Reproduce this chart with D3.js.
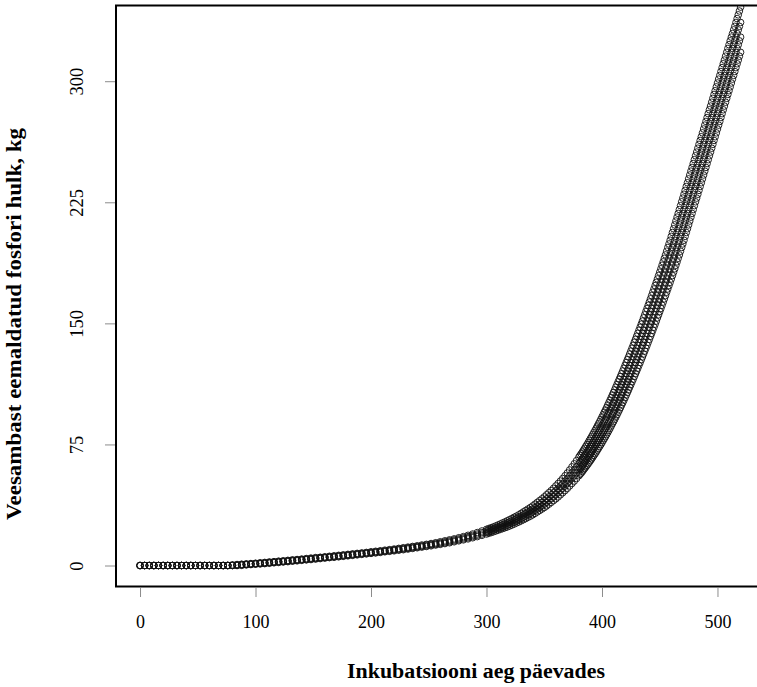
<!DOCTYPE html>
<html>
<head>
<meta charset="utf-8">
<script src="https://cdn.jsdelivr.net/npm/d3@7"></script>
<style>
  body { margin: 0; background: #fff; }
  svg { display: block; font-family: "Liberation Serif", "Times New Roman", serif; }
</style>
</head>
<body>
<div id="chart"></div>
<script>
// incubation day of every sample (sparser where the curve is flat)
var days = [0,4,8,12,16,20,24,28,32,36,40,44,48,52,56,60,64,68,72,76,
    80,84,88,92,96,100,104,108,112,116,120,124,128,132,136,140,144,148,152,156,
    160,164,168,172,176,180,184,188,192,196,200,204,208,212,216,220,224,228,232,236,
    240,244,248,252,256,260,264,268,272,276,280,284,288,292,296,
    300,302,304,306,308,310,312,314,316,318,320,322,324,326,328,330,332,334,336,338,
    340,342,344,346,348,350,352,354,356,358,360,362,364,366,368,370,372,374,376,378,
    380,381,382,383,384,385,386,387,388,389,390,391,392,393,394,395,396,397,398,399,
    400,401,402,403,404,405,406,407,408,409,410,411,412,413,414,415,416,417,418,419,
    420,421,422,423,424,425,426,427,428,429,430,431,432,433,434,435,436,437,438,439,
    440,441,442,443,444,445,446,447,448,449,450,451,452,453,454,455,456,457,458,459,
    460,461,462,463,464,465,466,467,468,469,470,471,472,473,474,475,476,477,478,479,
    480,481,482,483,484,485,486,487,488,489,490,491,492,493,494,495,496,497,498,499,
    500,501,502,503,504,505,506,507,508,509,510,511,512,513,514,515,516,517,518,519,520];

// removed phosphorus, kg - four runs
var seriesA = [0,0,0,0,0,0,0,0,0,0,0,0,0,0,0,0,0,0,0,
    0.1,0.4,0.6,0.8,1.0,1.2,1.4,1.7,1.9,2.2,2.4,2.7,2.9,3.2,3.5,3.7,4.0,4.3,4.6,4.9,
    5.1,5.4,5.7,6.0,6.3,6.6,6.9,7.2,7.5,7.8,8.1,8.5,8.8,9.1,9.5,9.8,10.2,10.6,11.0,11.4,
    11.8,12.2,12.7,13.1,13.6,14.1,14.7,15.3,15.9,16.5,17.2,17.9,18.7,19.5,20.4,21.4,
    22.4,22.9,23.4,23.9,24.5,25.1,25.7,26.4,27.0,27.7,28.4,29.1,29.9,30.6,31.4,32.3,33.2,34.1,35.0,35.9,
    36.9,38.0,39.1,40.2,41.3,42.5,43.8,45.1,46.4,47.8,49.3,50.8,52.3,53.9,55.6,57.3,59.2,61.1,63.0,65.0,
    67.1,68.2,69.2,70.3,71.5,72.6,73.8,74.9,76.1,77.4,
    78.6,79.8,81.1,82.4,83.7,85.0,86.4,87.8,89.1,90.5,
    92.0,93.4,94.9,96.3,97.8,99.4,100.9,102.4,104.0,105.6,
    107.2,108.8,110.5,112.1,113.8,115.4,117.1,118.8,120.5,122.2,
    124.0,125.7,127.5,129.2,131.0,132.8,134.6,136.4,138.3,140.1,
    142.0,143.8,145.7,147.6,149.5,151.4,153.4,155.3,157.3,159.2,
    161.2,163.2,165.2,167.2,169.3,171.3,173.4,175.4,177.5,179.6,
    181.7,183.8,186.0,188.1,190.3,192.4,194.7,197.0,199.2,201.5,
    203.9,206.3,208.6,211.0,213.4,215.8,218.1,220.5,222.9,225.3,
    227.6,230.0,232.4,234.8,237.1,239.5,241.9,244.3,246.6,249.0,
    251.4,253.8,256.1,258.5,260.9,263.3,265.6,268.0,270.4,272.8,
    275.1,277.5,279.9,282.3,284.6,287.0,289.4,291.8,294.1,296.5,
    298.9,301.3,303.6,306.0,308.4,310.8,313.1,315.5,317.9,320.3,
    322.6,325.0,327.3,329.5,331.8,334.0,336.4,338.8,341.1,343.5,345.9];

var seriesB = [0,0,0,0,0,0,0,0,0,0,0,0,0,0,0,0,0,0,0,0,
    0.1,0.4,0.6,0.8,1.0,1.2,1.4,1.7,1.9,2.2,2.4,2.7,2.9,3.2,3.5,3.7,4.0,4.3,4.6,4.9,
    5.1,5.4,5.7,6.0,6.3,6.6,6.9,7.2,7.5,7.8,8.1,8.5,8.8,9.1,9.5,9.8,10.2,10.6,11.0,11.4,
    11.8,12.2,12.7,13.1,13.6,14.1,14.7,15.3,15.9,16.5,17.2,17.9,18.7,19.5,20.4,
    21.4,21.9,22.4,22.9,23.4,23.9,24.5,25.1,25.7,26.4,27.0,27.7,28.4,29.1,29.9,30.6,31.4,32.3,33.2,34.1,
    35.0,35.9,36.9,38.0,39.1,40.2,41.3,42.5,43.8,45.1,46.4,47.8,49.3,50.8,52.3,53.9,55.6,57.3,59.2,61.1,
    63.0,64.0,65.0,66.0,67.1,68.2,69.2,70.3,71.5,72.6,
    73.8,74.9,76.1,77.4,78.6,79.8,81.1,82.4,83.7,85.0,
    86.4,87.8,89.1,90.5,92.0,93.4,94.9,96.3,97.8,99.4,
    100.9,102.4,104.0,105.6,107.2,108.8,110.5,112.1,113.8,115.4,
    117.1,118.8,120.5,122.2,124.0,125.7,127.5,129.2,131.0,132.8,
    134.6,136.4,138.3,140.1,142.0,143.8,145.7,147.6,149.5,151.4,
    153.4,155.3,157.3,159.2,161.2,163.2,165.2,167.2,169.3,171.3,
    173.4,175.4,177.5,179.6,181.7,183.8,186.0,188.1,190.3,192.4,
    194.7,197.0,199.2,201.5,203.9,206.3,208.6,211.0,213.4,215.8,
    218.1,220.5,222.9,225.3,227.6,230.0,232.4,234.8,237.1,239.5,
    241.9,244.3,246.6,249.0,251.4,253.8,256.1,258.5,260.9,263.3,
    265.6,268.0,270.4,272.8,275.1,277.5,279.9,282.3,284.6,287.0,
    289.4,291.8,294.1,296.5,298.9,301.3,303.6,306.0,308.4,310.8,
    313.1,315.5,317.9,320.3,322.6,325.0,327.3,329.5,331.8,334.0,336.4];

var seriesC = [0,0,0,0,0,0,0,0,0,0,0,0,0,0,0,0,0,0,0,0,0,
    0.1,0.4,0.6,0.8,1.0,1.2,1.4,1.7,1.9,2.2,2.4,2.7,2.9,3.2,3.5,3.7,4.0,4.3,4.6,4.9,
    5.1,5.4,5.7,6.0,6.3,6.6,6.9,7.2,7.5,7.8,8.1,8.5,8.8,9.1,9.5,9.8,10.2,10.6,11.0,11.4,
    11.8,12.2,12.7,13.1,13.6,14.1,14.7,15.3,15.9,16.5,17.2,17.9,18.7,19.5,
    20.4,20.9,21.4,21.9,22.4,22.9,23.4,23.9,24.5,25.1,25.7,26.4,27.0,27.7,28.4,29.1,29.9,30.6,31.4,32.3,
    33.2,34.1,35.0,35.9,36.9,38.0,39.1,40.2,41.3,42.5,43.8,45.1,46.4,47.8,49.3,50.8,52.3,53.9,55.6,57.3,
    59.2,60.1,61.1,62.0,63.0,64.0,65.0,66.0,67.1,68.2,
    69.2,70.3,71.5,72.6,73.8,74.9,76.1,77.4,78.6,79.8,
    81.1,82.4,83.7,85.0,86.4,87.8,89.1,90.5,92.0,93.4,
    94.9,96.3,97.8,99.4,100.9,102.4,104.0,105.6,107.2,108.8,
    110.5,112.1,113.8,115.4,117.1,118.8,120.5,122.2,124.0,125.7,
    127.5,129.2,131.0,132.8,134.6,136.4,138.3,140.1,142.0,143.8,
    145.7,147.6,149.5,151.4,153.4,155.3,157.3,159.2,161.2,163.2,
    165.2,167.2,169.3,171.3,173.4,175.4,177.5,179.6,181.7,183.8,
    186.0,188.1,190.3,192.4,194.7,197.0,199.2,201.5,203.9,206.3,
    208.6,211.0,213.4,215.8,218.1,220.5,222.9,225.3,227.6,230.0,
    232.4,234.8,237.1,239.5,241.9,244.3,246.6,249.0,251.4,253.8,
    256.1,258.5,260.9,263.3,265.6,268.0,270.4,272.8,275.1,277.5,
    279.9,282.3,284.6,287.0,289.4,291.8,294.1,296.5,298.9,301.3,
    303.6,306.0,308.4,310.8,313.1,315.5,317.9,320.3,322.6,325.0,327.3];

var seriesD = [0,0,0,0,0,0,0,0,0,0,0,0,0,0,0,0,0,0,0,0,0,0,
    0.1,0.4,0.6,0.8,1.0,1.2,1.4,1.7,1.9,2.2,2.4,2.7,2.9,3.2,3.5,3.7,4.0,4.3,4.6,4.9,
    5.1,5.4,5.7,6.0,6.3,6.6,6.9,7.2,7.5,7.8,8.1,8.5,8.8,9.1,9.5,9.8,10.2,10.6,11.0,11.4,
    11.8,12.2,12.7,13.1,13.6,14.1,14.7,15.3,15.9,16.5,17.2,17.9,18.7,
    19.5,20.0,20.4,20.9,21.4,21.9,22.4,22.9,23.4,23.9,24.5,25.1,25.7,26.4,27.0,27.7,28.4,29.1,29.9,30.6,
    31.4,32.3,33.2,34.1,35.0,35.9,36.9,38.0,39.1,40.2,41.3,42.5,43.8,45.1,46.4,47.8,49.3,50.8,52.3,53.9,
    55.6,56.5,57.3,58.2,59.2,60.1,61.1,62.0,63.0,64.0,
    65.0,66.0,67.1,68.2,69.2,70.3,71.5,72.6,73.8,74.9,
    76.1,77.4,78.6,79.8,81.1,82.4,83.7,85.0,86.4,87.8,
    89.1,90.5,92.0,93.4,94.9,96.3,97.8,99.4,100.9,102.4,
    104.0,105.6,107.2,108.8,110.5,112.1,113.8,115.4,117.1,118.8,
    120.5,122.2,124.0,125.7,127.5,129.2,131.0,132.8,134.6,136.4,
    138.3,140.1,142.0,143.8,145.7,147.6,149.5,151.4,153.4,155.3,
    157.3,159.2,161.2,163.2,165.2,167.2,169.3,171.3,173.4,175.4,
    177.5,179.6,181.7,183.8,186.0,188.1,190.3,192.4,194.7,197.0,
    199.2,201.5,203.9,206.3,208.6,211.0,213.4,215.8,218.1,220.5,
    222.9,225.3,227.6,230.0,232.4,234.8,237.1,239.5,241.9,244.3,
    246.6,249.0,251.4,253.8,256.1,258.5,260.9,263.3,265.6,268.0,
    270.4,272.8,275.1,277.5,279.9,282.3,284.6,287.0,289.4,291.8,
    294.1,296.5,298.9,301.3,303.6,306.0,308.4,310.8,313.1,315.5,317.9];

var xTicks = [0, 100, 200, 300, 400, 500];
var yTicks = [0, 75, 150, 225, 300];
var xTitle = "Inkubatsiooni aeg päevades";
var yTitle = "Veesambast eemaldatud fosfori hulk, kg";

var width = 757;
var height = 687;

// plot region, the right side of the box runs off the picture
var plot = { left: 116, top: 5.5, right: 764.6, bottom: 586.5 };

var xScale = d3.scaleLinear().domain([-20.8, 540.8]).range([plot.left, plot.right]);
var yScale = d3.scaleLinear().domain([-13.0, 346.9]).range([plot.bottom, plot.top]);

var svg = d3.select("#chart").append("svg")
    .attr("width", width)
    .attr("height", height);

svg.append("clipPath")
    .attr("id", "plot-clip")
  .append("rect")
    .attr("x", plot.left)
    .attr("y", plot.top)
    .attr("width", plot.right - plot.left)
    .attr("height", plot.bottom - plot.top);

// points
var allSeries = [seriesA, seriesB, seriesC, seriesD];
var seriesContainer = svg.append("g")
    .attr("clip-path", "url(#plot-clip)");

seriesContainer.selectAll("g")
    .data(allSeries)
    .enter()
    .append("g")
    .each(function(values) {
        d3.select(this).selectAll("circle")
            .data(values)
            .enter()
            .append("circle")
            .attr("cx", function(v, i) { return xScale(days[i]); })
            .attr("cy", function(v) { return yScale(v); })
            .attr("r", 3.3)
            .attr("fill", "none")
            .attr("stroke", "#111")
            .attr("stroke-width", 0.9);
    });

// box
svg.append("rect")
    .attr("x", plot.left)
    .attr("y", plot.top)
    .attr("width", plot.right - plot.left)
    .attr("height", plot.bottom - plot.top)
    .attr("fill", "none")
    .attr("stroke", "#000")
    .attr("stroke-width", 2);

// x axis
var xAxis = d3.axisBottom(xScale)
    .tickValues(xTicks)
    .tickSize(9)
    .tickPadding(18)
    .tickFormat(d3.format("d"));

var xAxisContainer = svg.append("g")
    .attr("transform", "translate(0," + (plot.bottom + 1.5) + ")")
    .call(xAxis);
xAxisContainer.select(".domain").remove();
xAxisContainer.selectAll(".tick line").attr("stroke", "#8c8c8c");
xAxisContainer.selectAll(".tick text")
    .attr("fill", "#000")
    .style("font-family", "Liberation Serif")
    .style("font-size", "18px");

// y axis, labels turned parallel to the axis
var yAxis = d3.axisLeft(yScale)
    .tickValues(yTicks)
    .tickSize(10)
    .tickFormat(d3.format("d"));

var yAxisContainer = svg.append("g")
    .attr("transform", "translate(" + (plot.left - 1) + ",0)")
    .call(yAxis);
yAxisContainer.select(".domain").remove();
yAxisContainer.selectAll(".tick line").attr("stroke", "#8c8c8c");
yAxisContainer.selectAll(".tick text")
    .attr("x", null)
    .attr("dy", null)
    .attr("text-anchor", "middle")
    .attr("transform", "translate(-32,0) rotate(-90)")
    .attr("fill", "#000")
    .style("font-family", "Liberation Serif")
    .style("font-size", "18.5px");

// titles
svg.append("text")
    .attr("x", 476)
    .attr("y", 678)
    .attr("text-anchor", "middle")
    .attr("textLength", 258)
    .attr("lengthAdjust", "spacingAndGlyphs")
    .style("font-size", "20px")
    .style("font-weight", "bold")
    .text(xTitle);

svg.append("text")
    .attr("transform", "translate(21,324) rotate(-90)")
    .attr("text-anchor", "middle")
    .attr("textLength", 392)
    .attr("lengthAdjust", "spacingAndGlyphs")
    .style("font-size", "20px")
    .style("font-weight", "bold")
    .text(yTitle);
</script>
</body>
</html>
